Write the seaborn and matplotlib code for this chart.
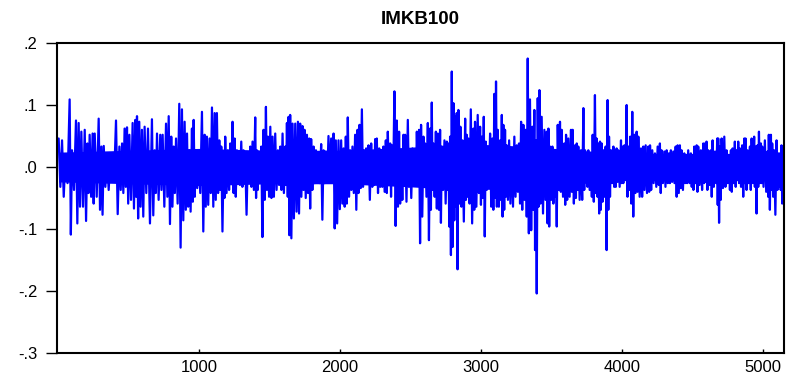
import numpy as np
import pandas as pd
import matplotlib
matplotlib.use("Agg")
import matplotlib.pyplot as plt
from matplotlib.ticker import FuncFormatter
import seaborn as sns

# observation index where each reading was taken
obs = [2, 26, 50, 80, 97, 125, 144, 163, 187, 206, 222, 243, 258, 286, 305, 322, 345, 369, 385,
       409, 433, 452, 470, 487, 504, 527, 546, 558, 574, 593, 612, 636, 664, 683, 700, 723, 740,
       764, 783, 801, 818, 835,
       858, 877, 896, 913, 929, 948, 960, 976, 995, 1019, 1038, 1054, 1073, 1090, 1109, 1125, 1142,
       1156, 1173, 1184, 1203, 1220, 1236, 1251, 1267, 1279, 1298, 1314, 1326, 1345, 1362, 1378,
       1397, 1409, 1421, 1440, 1456, 1473, 1487, 1504, 1520, 1539, 1558, 1575, 1591, 1610, 1622,
       1634, 1645, 1662, 1681,
       1700, 1716, 1733, 1747, 1764, 1780, 1794, 1811, 1828, 1846, 1865, 1882, 1898, 1917, 1936,
       1953, 1969, 1988, 2007, 2024, 2040, 2054, 2071, 2087, 2106, 2123, 2137, 2154, 2170, 2184,
       2201, 2220, 2236, 2248, 2260, 2277, 2291, 2307, 2324, 2338, 2355, 2367, 2385, 2402, 2418,
       2433, 2449, 2461, 2480, 2496, 2513, 2532,
       2544, 2560, 2574, 2591, 2603, 2622, 2638, 2650, 2662, 2679, 2693, 2709, 2721, 2740, 2757,
       2768, 2780, 2792, 2804, 2816, 2827, 2839, 2853, 2868, 2887, 2898, 2910, 2927, 2946, 2957,
       2976, 2993, 3005, 3019, 3033, 3047, 3064, 3080, 3094, 3106, 3118, 3135, 3147, 3158, 3170,
       3182, 3199, 3217, 3236, 3253, 3269, 3284, 3300, 3317, 3331, 3347, 3364, 3378, 3388, 3402,
       3414,
       3430, 3449, 3466, 3478, 3489, 3506, 3520, 3530, 3544, 3560, 3572, 3591, 3603, 3619, 3638,
       3650, 3667, 3679, 3690, 3709, 3726, 3738, 3749, 3761, 3780, 3792, 3808, 3820, 3832, 3844,
       3856, 3868, 3884, 3898, 3908, 3922, 3939, 3950, 3962, 3974, 3993, 4002, 4017, 4033, 4045,
       4059, 4073, 4087, 4104, 4116, 4135, 4151, 4168, 4187, 4199, 4215, 4234,
       4253, 4269, 4281, 4300, 4317, 4333, 4347, 4364, 4381, 4395, 4411, 4423, 4442, 4454, 4470,
       4489, 4501, 4513, 4530, 4541, 4560, 4577, 4589, 4600, 4612, 4631, 4643, 4660, 4676, 4683,
       4695, 4707, 4726, 4742, 4759, 4773, 4785, 4801, 4813, 4825, 4837, 4853, 4868, 4877, 4891,
       4908, 4920, 4938, 4948, 4962, 4972, 4986, 4995, 5014, 5033, 5042, 5057, 5066, 5080, 5097,
       5109, 5121, 5132, 5142]

# local maxima of the return series
high = [.046, .043, .017, .109, .027, .075, .071, .057, .060, .038, .052, .054, .054, .078, .033,
        .034, .022, .019, .011, .075, .033, .038, .062, .064, .052, .071, .076, .082, .073, .060,
        .065, .062, .077, .027, .054, .052, .052, .070, .082, .049, .033, .046,
        .102, .093, .073, .054, .027, .062, .076, .027, .027, .089, .052, .049, .046, .096, .087,
        .087, .043, .033, .022, .049, .027, .038, .073, .046, .027, .017, .041, .027, .014, .022,
        .033, .041, .080, .027, .025, .033, .060, .097, .049, .065, .049, .054, .027, .033, .054,
        .033, .071, .081, .084, .070, .070,
        .073, .070, .066, .060, .052, .046, .045, .033, .027, .022, .037, .027, .025, .050, .046,
        .054, .043, .043, .043, .030, .049, .080, .027, .033, .052, .060, .068, .093, .027, .030,
        .035, .038, .022, .045, .046, .030, .027, .033, .043, .057, .038, .035, .122, .075, .057,
        .027, .052, .052, .076, .027, .030, .027,
        .057, .060, .068, .049, .038, .071, .062, .104, .038, .057, .054, .060, .033, .043, .041,
        .038, .049, .154, .103, .081, .087, .092, .065, .043, .078, .052, .046, .093, .062, .073,
        .084, .065, .049, .081, .041, .033, .054, .046, .118, .138, .060, .043, .084, .068, .060,
        .035, .043, .030, .049, .035, .038, .073, .068, .060, .175, .109, .065, .092, .043, .111,
        .124,
        .081, .060, .057, .062, .033, .033, .017, .022, .068, .073, .060, .038, .052, .046, .060,
        .060, .035, .038, .033, .027, .095, .027, .022, .027, .022, .052, .116, .046, .038, .041,
        .038, .027, .033, .108, .049, .027, .033, .027, .030, .027, .043, .033, .035, .100, .033,
        .049, .089, .052, .057, .049, .030, .033, .035, .033, .035, .027, .022,
        .033, .038, .027, .025, .027, .022, .027, .025, .033, .035, .035, .027, .022, .017, .027,
        .022, .017, .033, .035, .033, .027, .038, .038, .041, .027, .027, .043, .025, .046, .046,
        .033, .046, .049, .027, .017, .027, .030, .041, .027, .041, .030, .035, .046, .046, .027,
        .033, .046, .049, .033, .035, .057, .038, .033, .043, .025, .052, .052, .038, .027, .043,
        .022, .022, .035, .027]

# local minima of the return series
low = [-.032, -.048, -.026, -.109, -.037, -.091, -.064, -.064, -.087, -.042, -.048, -.059, -.048,
       -.069, -.077, -.032, -.037, -.013, -.010, -.076, -.037, -.042, -.032, -.059, -.053, -.067,
       -.048, -.083, -.064, -.080, -.042, -.091, -.078, -.042, -.053, -.037, -.064, -.048, -.092,
       -.064, -.042, -.059,
       -.130, -.086, -.069, -.064, -.072, -.056, -.048, -.034, -.042, -.104, -.064, -.061, -.042,
       -.064, -.053, -.042, -.037, -.104, -.050, -.042, -.037, -.026, -.042, -.048, -.021, -.029,
       -.032, -.024, -.077, -.026, -.032, -.037, -.050, -.037, -.026, -.113, -.053, -.037, -.048,
       -.050, -.048, -.037, -.029, -.037, -.042, -.029, -.048, -.110, -.115, -.083, -.072,
       -.075, -.048, -.037, -.050, -.042, -.067, -.037, -.026, -.021, -.026, -.085, -.026, -.024,
       -.021, -.021, -.099, -.091, -.068, -.059, -.064, -.059, -.048, -.037, -.042, -.069, -.042,
       -.034, -.032, -.026, -.021, -.053, -.032, -.029, -.024, -.042, -.032, -.032, -.040, -.042,
       -.024, -.048, -.021, -.095, -.064, -.059, -.053, -.026, -.056, -.032, -.050, -.029, -.026,
       -.024, -.123, -.080, -.032, -.048, -.118, -.069, -.037, -.048, -.067, -.069, -.090, -.037,
       -.059, -.037, -.096, -.142, -.129, -.086, -.064, -.165, -.059, -.064, -.088, -.053, -.048,
       -.059, -.091, -.069, -.064, -.042, -.061, -.050, -.112, -.037, -.016, -.064, -.069, -.050,
       -.064, -.064, -.053, -.080, -.069, -.048, -.053, -.059, -.064, -.048, -.040, -.059, -.069,
       -.053, -.080, -.107, -.102, -.069, -.134, -.204, -.064, -.059,
       -.075, -.053, -.091, -.096, -.053, -.059, -.048, -.096, -.037, -.040, -.048, -.061, -.053,
       -.048, -.040, -.059, -.050, -.037, -.053, -.053, -.037, -.021, -.032, -.037, -.048, -.056,
       -.042, -.048, -.075, -.069, -.056, -.048, -.134, -.069, -.048, -.026, -.032, -.032, -.024,
       -.032, -.026, -.026, -.016, -.048, -.037, -.059, -.080, -.042, -.040, -.048, -.048, -.037,
       -.042, -.040, -.037, -.026, -.032,
       -.029, -.042, -.026, -.032, -.026, -.026, -.024, -.026, -.048, -.042, -.034, -.037, -.026,
       -.026, -.026, -.032, -.037, -.026, -.040, -.029, -.037, -.026, -.024, -.037, -.029, -.048,
       -.032, -.026, -.061, -.090, -.053, -.034, -.032, -.026, -.037, -.040, -.026, -.032, -.021,
       -.026, -.032, -.048, -.026, -.037, -.026, -.037, -.026, -.032, -.075, -.032, -.026, -.026,
       -.032, -.040, -.048, -.069, -.037, -.048, -.077, -.037, -.032, -.037, -.059, -.037]

# solid core of the series (read coarsely)
core_obs = [1, 500, 1000, 1500, 2000, 2500, 2800, 3100, 3400, 3700, 4000, 4500, 5150]
core_hi = [.024, .027, .030, .027, .027, .032, .036, .036, .032, .027, .022, .022, .022]
core_lo = [-.024, -.027, -.030, -.027, -.027, -.032, -.036, -.036, -.032, -.027, -.022, -.022, -.022]

title = "IMKB100"
xticks = [1000, 2000, 3000, 4000, 5000]
yticks = [0.2, 0.1, 0.0, -0.1, -0.2, -0.3]

# interleave max/min so the line sweeps the full band
t = np.array(obs, dtype=float)
mid = np.append((t[:-1] + t[1:]) / 2, t[-1] + 8)
xs = np.empty(2 * len(t))
ys = np.empty(2 * len(t))
xs[0::2], xs[1::2] = t, mid
ys[0::2], ys[1::2] = high, low
df = pd.DataFrame({"obs": xs, "ret": ys})

sns.set_theme(style="white")
plt.rcParams["font.family"] = ["Liberation Sans", "DejaVu Sans"]

fig = plt.figure(figsize=(7.89, 3.83), dpi=100)
ax = fig.add_axes([0.0722, 0.0783, 0.9215, 0.8094])

ax.fill_between(core_obs, core_lo, core_hi, color="#0000FF", lw=0)
sns.lineplot(data=df, x="obs", y="ret", sort=False, estimator=None,
             color="#0000FF", linewidth=1.6, ax=ax)

ax.set_xlim(-10, 5150)
ax.set_ylim(-0.3, 0.2)
ax.set_xticks(xticks)
ax.set_yticks(yticks)
ax.yaxis.set_major_formatter(FuncFormatter(
    lambda v, p: ("-" if v < -1e-9 else "") + ("%.1f" % abs(v)).lstrip("0")))
ax.set_xlabel("")
ax.set_ylabel("")
ax.tick_params(axis="x", direction="in", length=3, width=1, labelsize=12, pad=5, colors="black")
ax.tick_params(axis="y", direction="out", length=8, width=1, labelsize=12, pad=6, colors="black")
ax.tick_params(left=True, bottom=True)
for s in ax.spines.values():
    s.set_color("black")
    s.set_linewidth(1.5)
ax.set_title(title, fontsize=13.5, fontweight="bold", pad=14, color="black")

fig.savefig("out.png", dpi=100)
